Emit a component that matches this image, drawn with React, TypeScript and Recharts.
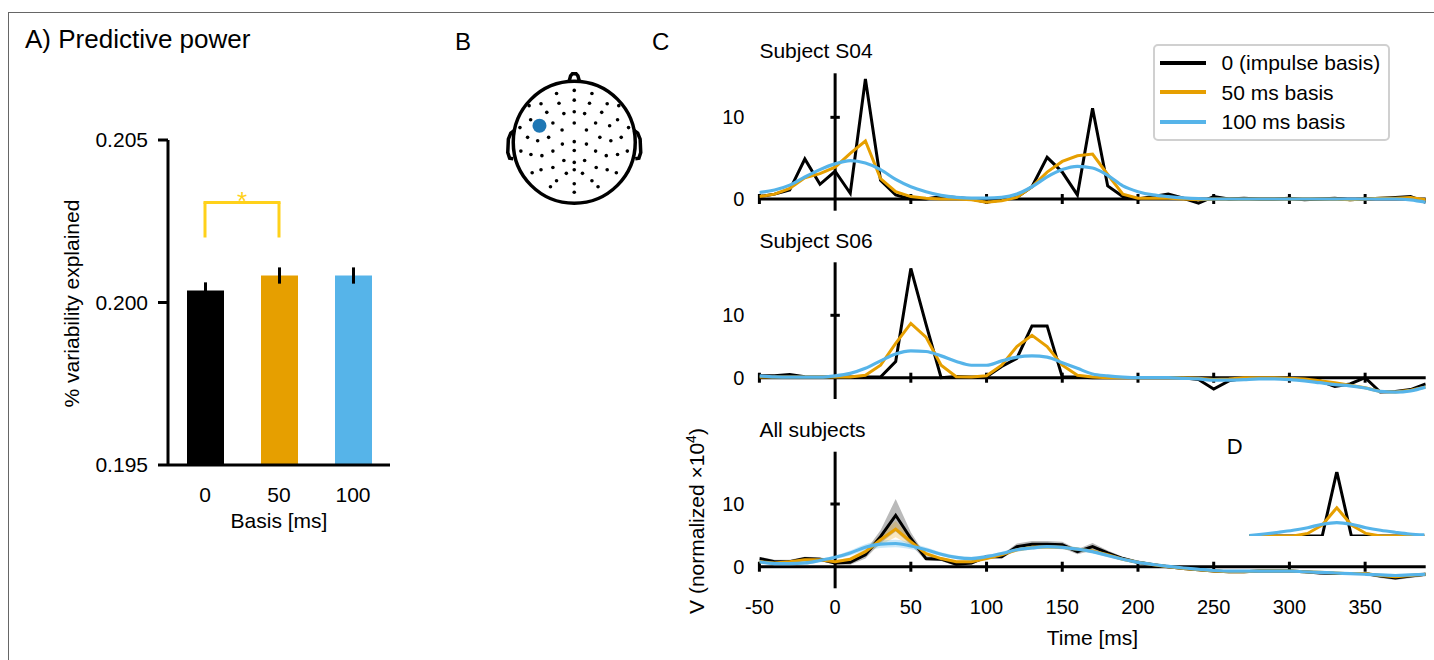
import React from 'react';
import {
  BarChart, Bar, XAxis, YAxis, Cell, ErrorBar, ReferenceLine, ReferenceDot,
  LineChart, Line, ComposedChart, Area, ScatterChart, Scatter,
} from 'recharts';

const FONT = '"Liberation Sans", Arial, Helvetica, sans-serif';
const BLACK = '#000000';
const ORANGE = '#E69F00';
const SKY = '#56B4E9';
const GOLD = '#FFD11A';
const ELECTRODE_BLUE = '#1F77B4';

// ---------- Panel A ----------
const basisLabels = ['0', '50', '100'];
const basisValues = [0.20037, 0.20083, 0.20083];
const basisErrors = [0.00025, 0.00025, 0.00025];
const basisColors = [BLACK, ORANGE, SKY];
const panelATicks = [0.195, 0.2, 0.205];
const bracketLow = 0.2020;
const bracketHigh = 0.20308;

// ---------- Panel B (normalized head coordinates) ----------
const electrodes: [number, number][] = [
  [-0.29, 0.8], [0, 0.85], [0.29, 0.8],
  [-0.74, 0.6], [-0.545, 0.63], [-0.25, 0.64], [0, 0.69], [0.25, 0.64], [0.54, 0.63], [0.73, 0.6],
  [-0.45, 0.49], [-0.17, 0.47], [0, 0.5], [0.17, 0.47], [0.45, 0.49],
  [-0.715, 0.37], [-0.35, 0.315], [0, 0.315], [0.35, 0.315], [0.71, 0.37],
  [-0.89, 0.24], [-0.2, 0.2], [0.2, 0.2], [0.58, 0.27], [0.89, 0.24],
  [-0.765, 0.08], [-0.6, 0.025], [-0.42, 0.08], [0, 0.01], [0.42, 0.08], [0.6, 0.025], [0.77, 0.08],
  [-0.195, -0.03], [0.2, -0.03],
  [-0.875, -0.145], [-0.71, -0.2], [-0.53, -0.22], [-0.35, -0.145], [0, -0.135], [0.35, -0.145], [0.525, -0.22], [0.71, -0.2], [0.87, -0.145],
  [-0.17, -0.3], [0, -0.33], [0.17, -0.3],
  [-0.69, -0.5], [-0.545, -0.45], [-0.35, -0.415], [-0.13, -0.51], [0, -0.45], [0.135, -0.51], [0.36, -0.415], [0.54, -0.45], [0.69, -0.5],
  [-0.29, -0.63], [0, -0.68], [0.29, -0.63],
  [-0.39, -0.73], [0, -0.82], [0.39, -0.73],
];
const selectedElectrode: [number, number] = [-0.57, 0.27];
const noseOutline: [number, number][] = [[-0.085, 0.996], [-0.06, 1.09], [-0.03, 1.125], [0.03, 1.125], [0.06, 1.09], [0.085, 0.996]];
const leftEarOutline: [number, number][] = [[-0.975, 0.2], [-1.04, 0.15], [-1.08, 0.05], [-1.09, -0.17], [-1.06, -0.26], [-1.0, -0.27]];
const rightEarOutline: [number, number][] = [[0.975, 0.2], [1.04, 0.15], [1.08, 0.05], [1.09, -0.17], [1.06, -0.26], [1.0, -0.27]];

// ---------- Panel C ----------
const times = [-50, -40, -30, -20, -10, 0, 10, 20, 30, 40, 50, 60, 70, 80, 90, 100, 110, 120, 130, 140, 150, 160, 170, 180, 190, 200, 210, 220, 230, 240, 250, 260, 270, 280, 290, 300, 310, 320, 330, 340, 350, 360, 370, 380, 390];
const xTicks = [-50, 0, 50, 100, 150, 200, 250, 300, 350];
const yTicks = [0, 10];

const s04Impulse = [0.3, 0.6, 1.1, 4.9, 1.8, 3.4, 0.7, 14.7, 2.3, 0.5, 0, 0, 0.3, 0.2, 0, -0.4, -0.1, 0.2, 1.5, 5.1, 3.3, 0.5, 11.1, 1.6, 0.3, 0, 0.3, 0.6, 0.1, -0.5, 0.3, 0, 0.1, 0, 0, 0.1, -0.1, 0, 0.1, -0.1, 0, 0.1, 0.2, 0.3, -0.4];
const s04Basis50 = [0.3, 0.6, 1.3, 2.6, 3.1, 3.9, 5.6, 7.1, 2.5, 0.9, 0.3, 0.1, 0, 0, -0.1, -0.4, -0.2, 0.2, 1.5, 3.3, 4.6, 5.3, 5.5, 3.0, 0.6, 0.1, 0.1, 0.1, 0, -0.1, 0, 0, 0, 0, 0, 0, 0, 0, 0, -0.1, 0, 0.1, 0.1, 0.2, -0.1];
const s04Basis100 = [0.8, 1.1, 1.7, 2.7, 3.6, 4.3, 4.7, 4.4, 3.6, 2.4, 1.5, 0.9, 0.45, 0.2, 0.1, 0.1, 0.2, 0.6, 1.5, 2.7, 3.6, 4.0, 3.8, 2.9, 1.6, 0.9, 0.5, 0.3, 0.15, 0.05, 0, 0, 0, 0, 0, 0, 0, 0, 0, 0, 0, 0, 0, -0.1, -0.4];

const s06Impulse = [0.3, 0.3, 0.5, 0.15, 0.1, 0.1, 0.1, 0.1, 0.1, 2.6, 17.5, 8.6, 0, 0.2, 0.1, 0.15, 1.8, 3.1, 8.3, 8.3, 0.1, 0.1, 0, 0, 0, 0, 0, 0, 0, -0.3, -1.8, -0.5, -0.1, -0.1, -0.1, -0.1, -0.3, -0.5, -1.4, -1.0, 0.0, -2.3, -2.2, -1.9, -1.0];
const s06Basis50 = [0.1, 0.1, 0.1, 0.1, 0.1, 0.1, 0.1, 0.4, 2.0, 5.5, 8.7, 6.5, 2.0, 0.15, 0.1, 0.3, 2.0, 5.0, 6.8, 5.0, 2.0, 0.4, 0.1, 0, 0, 0, 0, 0, 0, -0.1, -0.3, -0.2, 0, 0, 0, -0.1, -0.2, -0.5, -0.8, -1.2, -1.6, -2.2, -2.3, -2.0, -1.5];
const s06Basis100 = [0.3, 0.15, 0.1, 0.1, 0.1, 0.3, 0.7, 1.5, 2.7, 3.8, 4.3, 4.2, 3.5, 2.6, 2.0, 2.0, 2.7, 3.3, 3.5, 3.3, 2.4, 1.5, 0.6, 0.3, 0.1, 0, 0, 0, -0.1, -0.2, -0.4, -0.4, -0.3, -0.2, -0.2, -0.3, -0.5, -0.8, -1.1, -1.3, -1.65, -2.2, -2.3, -2.1, -1.5];

const allImpulse = [1.3, 0.8, 0.8, 1.3, 1.2, 0.6, 0.7, 1.9, 4.8, 8.2, 4.5, 1.3, 1.2, 0.4, 0.6, 1.6, 1.6, 3.2, 3.6, 3.6, 3.5, 2.4, 3.2, 2.2, 1.3, 0.7, 0.3, 0, -0.3, -0.5, -0.7, -0.8, -0.8, -0.7, -0.7, -0.7, -0.8, -1.0, -1.1, -1.1, -1.1, -1.5, -1.8, -1.5, -1.2];
const allBasis50 = [0.8, 0.6, 0.8, 1.1, 1.1, 0.8, 1.2, 2.4, 4.3, 6.0, 4.0, 2.1, 1.3, 0.8, 0.8, 1.3, 1.9, 2.7, 3.1, 3.2, 3.1, 2.8, 2.5, 1.9, 1.2, 0.7, 0.3, 0, -0.3, -0.5, -0.7, -0.8, -0.8, -0.7, -0.7, -0.7, -0.8, -0.9, -1.0, -1.1, -1.1, -1.4, -1.6, -1.4, -1.2];
const allBasis100 = [0.8, 0.5, 0.5, 0.6, 1.0, 1.5, 2.2, 3.1, 3.6, 3.7, 3.3, 2.7, 2.0, 1.5, 1.3, 1.6, 2.1, 2.7, 3.0, 3.2, 3.1, 2.8, 2.4, 1.8, 1.2, 0.7, 0.35, 0.05, -0.2, -0.4, -0.6, -0.7, -0.7, -0.7, -0.7, -0.7, -0.8, -0.9, -1.0, -1.1, -1.2, -1.3, -1.4, -1.3, -1.2];
const allImpulseErr = [0.3, 0.3, 0.3, 0.3, 0.3, 0.3, 0.4, 0.6, 1.0, 2.6, 1.0, 0.4, 0.3, 0.3, 0.3, 0.3, 0.3, 0.5, 0.5, 0.5, 0.5, 0.4, 0.6, 0.4, 0.3, 0.3, 0.3, 0.3, 0.2, 0.2, 0.2, 0.2, 0.2, 0.2, 0.2, 0.2, 0.2, 0.2, 0.2, 0.2, 0.2, 0.3, 0.3, 0.3, 0.3];
const allBasis50Err = [0.2, 0.2, 0.2, 0.2, 0.2, 0.2, 0.3, 0.4, 0.8, 1.3, 0.6, 0.3, 0.2, 0.2, 0.2, 0.2, 0.2, 0.3, 0.3, 0.3, 0.3, 0.3, 0.3, 0.3, 0.2, 0.2, 0.2, 0.2, 0.2, 0.2, 0.2, 0.2, 0.2, 0.2, 0.2, 0.2, 0.2, 0.2, 0.2, 0.2, 0.2, 0.2, 0.2, 0.2, 0.2];
const allBasis100Err = [0.3, 0.3, 0.3, 0.3, 0.3, 0.3, 0.4, 0.5, 0.6, 0.6, 0.5, 0.4, 0.3, 0.3, 0.3, 0.3, 0.3, 0.3, 0.3, 0.3, 0.3, 0.3, 0.3, 0.3, 0.3, 0.3, 0.2, 0.2, 0.2, 0.2, 0.2, 0.2, 0.2, 0.2, 0.2, 0.2, 0.2, 0.2, 0.2, 0.2, 0.2, 0.2, 0.2, 0.2, 0.2];

const legendNames = ['0 (impulse basis)', '50 ms basis', '100 ms basis'];
const legendColors = [BLACK, ORANGE, SKY];

// ---------- Panel D (basis functions) ----------
const insetX = [-6, -5, -4, -3, -2, -1, 0, 1, 2, 3, 4, 5, 6];
const insetImpulse = [0, 0, 0, 0, 0, 0, 1, 0, 0, 0, 0, 0, 0];
const insetBasis50 = [0, 0, 0, 0, 0.04, 0.17, 0.44, 0.17, 0.04, 0, 0, 0, 0];
const insetBasis100 = [0.005, 0.031, 0.058, 0.089, 0.129, 0.182, 0.207, 0.182, 0.129, 0.089, 0.058, 0.031, 0.016];

// ---------- tables ----------
const barData = basisLabels.map((b, i) => ({ basis: b, value: basisValues[i], err: basisErrors[i] }));
const toPoints = (arr: [number, number][]) => arr.map(([x, y]) => ({ x, y }));

function buildRows(a: number[], b: number[], c: number[], ea?: number[], eb?: number[], ec?: number[]) {
  return times.map((t, i) => ({
    t,
    black: a[i],
    orange: b[i],
    blue: c[i],
    blackBand: ea ? [a[i] - ea[i], a[i] + ea[i]] : undefined,
    orangeBand: eb ? [b[i] - eb[i], b[i] + eb[i]] : undefined,
    blueBand: ec ? [c[i] - ec[i], c[i] + ec[i]] : undefined,
  }));
}
const s04Rows = buildRows(s04Impulse, s04Basis50, s04Basis100);
const s06Rows = buildRows(s06Impulse, s06Basis50, s06Basis100);
const allRows = buildRows(allImpulse, allBasis50, allBasis100, allImpulseErr, allBasis50Err, allBasis100Err);
const insetRows = insetX.map((x, i) => ({ x, black: insetImpulse[i], orange: insetBasis50[i], blue: insetBasis100[i] }));

// ---------- layout constants ----------
const C_LEFT = 640;
const C_WIDTH = 794;
const Y_AXIS_W = 40;
const C_MARGIN_LEFT = 119.4 - Y_AXIS_W;
const C_MARGIN_RIGHT = 8.3;

function axisDecor(tickHalf: number) {
  const els: React.ReactNode[] = [];
  els.push(<ReferenceLine key="y0" y={0} stroke={BLACK} strokeWidth={3} ifOverflow="visible" />);
  els.push(<ReferenceLine key="x0" x={0} stroke={BLACK} strokeWidth={3} ifOverflow="visible" />);
  xTicks.filter((t) => t !== 0).forEach((t) => {
    els.push(
      <ReferenceLine key={'xt' + t} segment={[{ x: t, y: -tickHalf }, { x: t, y: tickHalf }]} stroke={BLACK} strokeWidth={3} ifOverflow="visible" />
    );
  });
  els.push(
    <ReferenceLine key="yt10" segment={[{ x: -3.1, y: 10 }, { x: 3.1, y: 10 }]} stroke={BLACK} strokeWidth={3} ifOverflow="visible" />
  );
  return els;
}

function seriesLines() {
  return [
    <Line key="b" type="linear" dataKey="black" stroke={BLACK} strokeWidth={3} dot={false} isAnimationActive={false} />,
    <Line key="o" type="linear" dataKey="orange" stroke={ORANGE} strokeWidth={3} dot={false} isAnimationActive={false} />,
    <Line key="s" type="monotone" dataKey="blue" stroke={SKY} strokeWidth={3.2} dot={false} isAnimationActive={false} />,
  ];
}

const tickStyle = { fill: BLACK, fontSize: 20, fontFamily: FONT };

function TracePanel(props: { rows: any[]; top: number; height: number; mTop: number; mBottom: number; domain: [number, number]; tickHalf: number }) {
  const { rows, top, height, mTop, mBottom, domain, tickHalf } = props;
  return (
    <div style={{ position: 'absolute', left: C_LEFT, top }}>
      <LineChart width={C_WIDTH} height={height} data={rows} margin={{ top: mTop, bottom: mBottom, left: C_MARGIN_LEFT, right: C_MARGIN_RIGHT }}>
        <XAxis type="number" dataKey="t" domain={[-50, 390]} allowDataOverflow hide />
        <YAxis type="number" width={Y_AXIS_W} domain={domain} allowDataOverflow ticks={yTicks} axisLine={false} tickLine={false} tickSize={0} tickMargin={15} tick={tickStyle} />
        {axisDecor(tickHalf)}
        {seriesLines()}
      </LineChart>
    </div>
  );
}

export default function App() {
  return (
    <div style={{ position: 'absolute', left: 0, top: 0, width: 1434, height: 660, overflow: 'hidden', background: '#fff', fontFamily: FONT }}>
      {/* figure frame */}
      <div style={{ position: 'absolute', left: 8, top: 12, width: 1500, height: 800, borderLeft: '1.5px solid #666', borderTop: '1.5px solid #666' }} />

      {/* Panel A */}
      <div style={{ position: 'absolute', left: 0, top: 0 }}>
        <BarChart width={420} height={560} data={barData} margin={{ top: 140, right: 30, bottom: 65, left: 168 - 60 }}>
          <XAxis dataKey="basis" height={30} interval={0} axisLine={{ stroke: BLACK, strokeWidth: 3 }} tickLine={false} tickSize={0} tickMargin={22} tick={{ fill: BLACK, fontSize: 21, fontFamily: FONT }} />
          <YAxis type="number" width={60} domain={[0.195, 0.205]} allowDataOverflow ticks={panelATicks} tickFormatter={(v: number) => v.toFixed(3)} axisLine={{ stroke: BLACK, strokeWidth: 3 }} tickLine={{ stroke: BLACK, strokeWidth: 3 }} tickSize={10} tickMargin={10} tick={{ fill: BLACK, fontSize: 21, fontFamily: FONT }} />
          <Bar dataKey="value" barSize={37} isAnimationActive={false}>
            {barData.map((d, i) => (
              <Cell key={d.basis} fill={basisColors[i]} />
            ))}
            <ErrorBar dataKey="err" direction="y" width={0} strokeWidth={3} stroke={BLACK} />
          </Bar>
          <ReferenceLine segment={[{ x: '0', y: bracketLow }, { x: '0', y: bracketHigh }]} stroke={GOLD} strokeWidth={3} ifOverflow="visible" />
          <ReferenceLine segment={[{ x: '50', y: bracketLow }, { x: '50', y: bracketHigh }]} stroke={GOLD} strokeWidth={3} ifOverflow="visible" />
          <ReferenceLine
            segment={[{ x: '0', y: bracketHigh }, { x: '50', y: bracketHigh }]}
            stroke={GOLD}
            strokeWidth={3}
            strokeLinecap="square"
            ifOverflow="visible"
            label={{ value: '*', position: 'top', offset: -8, fill: GOLD, fontSize: 26, fontFamily: FONT }}
          />
        </BarChart>
      </div>

      {/* Panel B */}
      <div style={{ position: 'absolute', left: 498, top: 66.25 }}>
        <ScatterChart width={152.5} height={152.5} margin={{ top: 0, right: 0, bottom: 0, left: 0 }}>
          <XAxis type="number" dataKey="x" domain={[-1.25, 1.25]} allowDataOverflow hide />
          <YAxis type="number" dataKey="y" domain={[-1.25, 1.25]} allowDataOverflow hide />
          <ReferenceDot x={0} y={0} r={61} fill="none" stroke={BLACK} strokeWidth={3.5} ifOverflow="visible" />
          <Scatter data={toPoints(noseOutline)} fill={BLACK} line={{ stroke: BLACK, strokeWidth: 3.5 }} lineType="joint" shape={() => <g />} isAnimationActive={false} />
          <Scatter data={toPoints(leftEarOutline)} fill={BLACK} line={{ stroke: BLACK, strokeWidth: 3.5 }} lineType="joint" shape={() => <g />} isAnimationActive={false} />
          <Scatter data={toPoints(rightEarOutline)} fill={BLACK} line={{ stroke: BLACK, strokeWidth: 3.5 }} lineType="joint" shape={() => <g />} isAnimationActive={false} />
          <Scatter data={toPoints(electrodes)} fill={BLACK} shape={(p: any) => <circle cx={p.cx} cy={p.cy} r={1.8} fill={BLACK} />} isAnimationActive={false} />
          <Scatter data={toPoints([selectedElectrode])} fill={ELECTRODE_BLUE} shape={(p: any) => <circle cx={p.cx} cy={p.cy} r={7} fill={ELECTRODE_BLUE} />} isAnimationActive={false} />
        </ScatterChart>
      </div>

      {/* Panel C */}
      <TracePanel rows={s04Rows} top={60} height={160} mTop={13.3} mBottom={9.3} domain={[-1.43, 15.39]} tickHalf={5 / 8.17} />
      <TracePanel rows={s06Rows} top={250} height={160} mTop={12.3} mBottom={11} domain={[-3.41, 18.49]} tickHalf={5 / 6.24} />

      <div style={{ position: 'absolute', left: C_LEFT, top: 440 }}>
        <ComposedChart width={C_WIDTH} height={200} data={allRows} margin={{ top: 11.7, bottom: 21.7, left: C_MARGIN_LEFT, right: C_MARGIN_RIGHT }}>
          <XAxis type="number" dataKey="t" domain={[-50, 390]} allowDataOverflow ticks={xTicks} height={30} axisLine={false} tickLine={false} tickSize={0} tickMargin={11.5} tick={tickStyle} interval={0} />
          <YAxis type="number" width={Y_AXIS_W} domain={[-3.44, 18.34]} allowDataOverflow ticks={yTicks} axisLine={false} tickLine={false} tickSize={0} tickMargin={15} tick={tickStyle} />
          {axisDecor(5 / 6.27)}
          <Area type="linear" dataKey="blackBand" stroke="none" fill="#8c8c8c" fillOpacity={0.6} isAnimationActive={false} />
          <Area type="linear" dataKey="orangeBand" stroke="none" fill={ORANGE} fillOpacity={0.25} isAnimationActive={false} />
          <Area type="monotone" dataKey="blueBand" stroke="none" fill={SKY} fillOpacity={0.3} isAnimationActive={false} />
          {seriesLines()}
        </ComposedChart>
      </div>

      {/* Panel D inset */}
      <div style={{ position: 'absolute', left: 1246, top: 462 }}>
        <LineChart width={182} height={80} data={insetRows} margin={{ top: 9.7, left: 3.3, right: 3.7, bottom: 6 }}>
          <XAxis type="number" dataKey="x" domain={[-6, 6]} hide />
          <YAxis type="number" domain={[0, 1]} allowDataOverflow hide />
          <Line type="linear" dataKey="black" stroke={BLACK} strokeWidth={3} dot={false} isAnimationActive={false} />
          <Line type="linear" dataKey="orange" stroke={ORANGE} strokeWidth={3} dot={false} isAnimationActive={false} />
          <Line type="monotone" dataKey="blue" stroke={SKY} strokeWidth={3.2} dot={false} isAnimationActive={false} />
        </LineChart>
      </div>

      {/* Legend */}
      <div style={{ position: 'absolute', left: 1153, top: 44, width: 233, height: 93, border: '2px solid #d0d0d0', borderRadius: 5, background: 'rgba(255,255,255,0.85)' }}>
        {legendNames.map((name, i) => (
          <div key={name} style={{ position: 'absolute', left: 5, top: 2 + i * 29.7, height: 29, display: 'flex', alignItems: 'center' }}>
            <div style={{ width: 46, height: 4, background: legendColors[i] }} />
            <span style={{ marginLeft: 15.5, fontSize: 21, color: BLACK, lineHeight: '29px', whiteSpace: 'nowrap' }}>{name}</span>
          </div>
        ))}
      </div>

      {/* Text annotations */}
      <svg width={1434} height={660} style={{ position: 'absolute', left: 0, top: 0, pointerEvents: 'none' }} fontFamily={FONT}>
        <text x={25} y={48.3} fontSize={26} fill={BLACK}>A) Predictive power</text>
        <text x={455} y={50} fontSize={24} fill={BLACK}>B</text>
        <text x={652} y={50} fontSize={24} fill={BLACK}>C</text>
        <text x={79} y={303.5} fontSize={21} fill={BLACK} textAnchor="middle" transform="rotate(-90 79 303.5)">% variability explained</text>
        <text x={279} y={528} fontSize={21} fill={BLACK} textAnchor="middle">Basis [ms]</text>
        <text x={759.4} y={58.3} fontSize={21} fill={BLACK}>Subject S04</text>
        <text x={759.4} y={248} fontSize={21} fill={BLACK}>Subject S06</text>
        <text x={759.4} y={437} fontSize={21} fill={BLACK}>All subjects</text>
        <text x={1226.7} y={454.3} fontSize={22} fill={BLACK}>D</text>
        <text x={1092.5} y={645} fontSize={21} fill={BLACK} textAnchor="middle">Time [ms]</text>
        <text x={704} y={521} fontSize={21} fill={BLACK} textAnchor="middle" transform="rotate(-90 704 521)">
          V (normalized ×10<tspan dy={-8} fontSize={14}>4</tspan><tspan dy={8}>)</tspan>
        </text>
      </svg>
    </div>
  );
}
